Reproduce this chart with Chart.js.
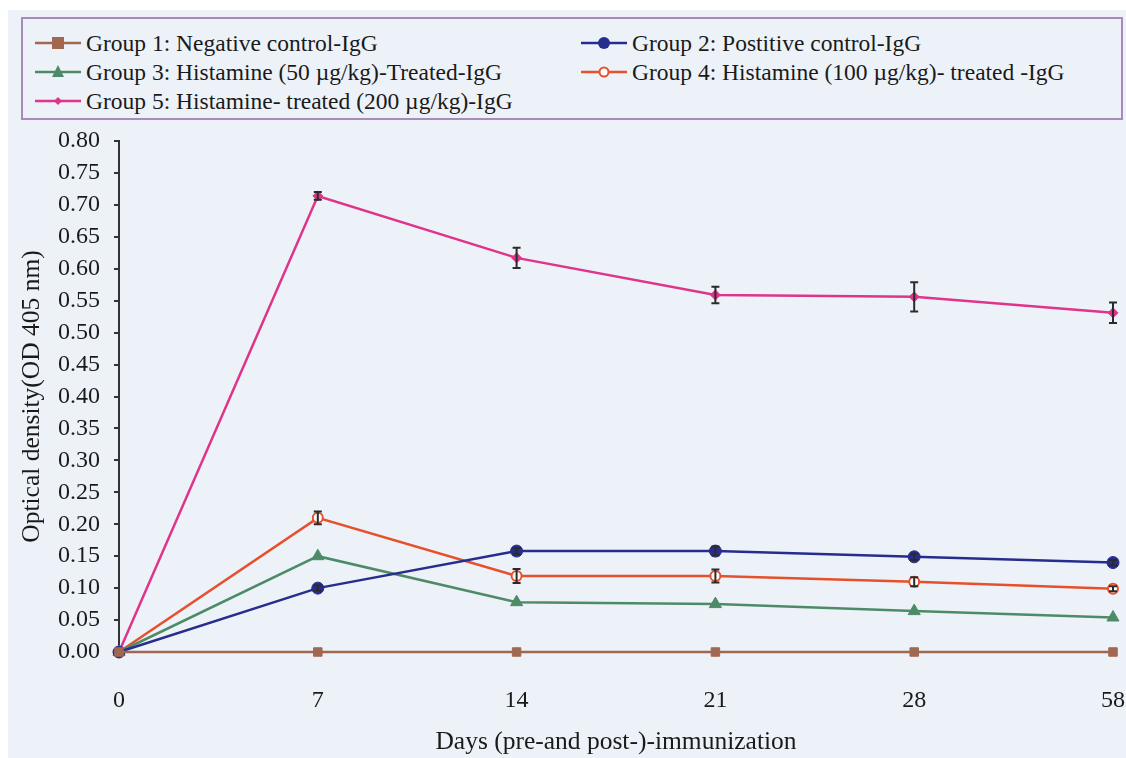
<!DOCTYPE html>
<html>
<head>
<meta charset="utf-8">
<script src="https://cdn.jsdelivr.net/npm/chart.js@4.4.1/dist/chart.umd.min.js"></script>
<style>
  html, body { margin:0; padding:0; background:#ffffff; width:1126px; height:758px; overflow:hidden; }
  #panel { position:absolute; left:8px; top:10px; width:1118px; height:748px; background:#edf2f8; }
  #legendBox { position:absolute; left:21px; top:17px; width:1098px; height:99px; border:2px solid #a98bb9; background:#edf2f8; }
  .lg { position:absolute; height:26px; display:flex; align-items:center; font-family:"Liberation Serif", "Times New Roman", serif; font-size:23.5px; color:#1a1a1a; white-space:nowrap; }
  .lg svg { margin-right:5px; }
  #c { position:absolute; left:0; top:0; }
</style>
</head>
<body>
<div id="panel"></div>
<div id="legendBox"></div>
<div id="legend"></div>
<canvas id="c" width="1126" height="758"></canvas>
<script>
// ---- data ----
const days = ['0', '7', '14', '21', '28', '58'];
const seriesNames = [
  'Group 1: Negative control-IgG',
  'Group 2: Postitive control-IgG',
  'Group 3: Histamine (50 \u00b5g/kg)-Treated-IgG',
  'Group 4: Histamine (100 \u00b5g/kg)- treated -IgG',
  'Group 5: Histamine- treated (200 \u00b5g/kg)-IgG'
];
const group1 = [0, 0, 0, 0, 0, 0];
const group2 = [0, 0.100, 0.158, 0.158, 0.149, 0.140];
const group3 = [0, 0.150, 0.078, 0.075, 0.064, 0.054];
const group4 = [0, 0.210, 0.119, 0.119, 0.110, 0.099];
const group5 = [0, 0.714, 0.617, 0.559, 0.556, 0.531];
const err1 = [0, 0, 0, 0, 0, 0];
const err2 = [0, 0.004, 0.005, 0.007, 0.005, 0.004];
const err3 = [0, 0, 0, 0, 0, 0];
const err4 = [0, 0.010, 0.011, 0.010, 0.007, 0.004];
const err5 = [0, 0.006, 0.016, 0.013, 0.023, 0.016];
const yTicksMin = 0, yTicksMax = 0.8, yTickStep = 0.05;
const xTitle = 'Days (pre-and post-)-immunization';
const yTitle = 'Optical density(OD 405 nm)';

// ---- styles ----
const colors = ['#a2684f', '#262d8c', '#4d8b68', '#e6502b', '#e0338a'];
const pointStyles = ['rect', 'circle', 'triangle', 'circle', 'rectRot'];
const pointRadii = [6, 6, 7, 5, 5];
const pointFills = [colors[0], colors[1], colors[2], '#ffffff', colors[4]];
const values = [group1, group2, group3, group4, group5];
const errors = [err1, err2, err3, err4, err5];

const datasets = values.map((v, i) => ({
  label: seriesNames[i],
  data: v,
  errors: errors[i],
  borderColor: colors[i],
  backgroundColor: pointFills[i],
  pointBorderColor: colors[i],
  pointBackgroundColor: pointFills[i],
  pointStyle: pointStyles[i],
  pointRadius: pointRadii[i],
  pointBorderWidth: i === 3 ? 2 : 1,
  borderWidth: 2.5,
  tension: 0,
  clip: false
}));

const errorBars = {
  id: 'errorBars',
  afterDatasetsDraw(chart) {
    const ctx = chart.ctx;
    const y = chart.scales.y;
    ctx.save();
    ctx.strokeStyle = '#2b2b2b';
    ctx.lineWidth = 2;
    chart.data.datasets.forEach((ds, di) => {
      const meta = chart.getDatasetMeta(di);
      meta.data.forEach((pt, i) => {
        const e = ds.errors[i];
        if (!e) return;
        const v = ds.data[i];
        const top = y.getPixelForValue(v + e);
        const bot = y.getPixelForValue(v - e);
        const x = pt.x;
        ctx.beginPath();
        ctx.moveTo(x, top); ctx.lineTo(x, bot);
        ctx.moveTo(x - 4, top); ctx.lineTo(x + 4, top);
        ctx.moveTo(x - 4, bot); ctx.lineTo(x + 4, bot);
        ctx.stroke();
      });
    });
    ctx.restore();
  }
};

const FONT = "'Liberation Serif', 'Times New Roman', serif";

const chart = new Chart(document.getElementById('c'), {
  type: 'line',
  data: { labels: days, datasets },
  options: {
    responsive: false,
    animation: false,
    layout: { padding: { top: 141, right: 13, bottom: 0, left: 0 } },
    plugins: { legend: { display: false }, tooltip: { enabled: false } },
    scales: {
      x: {
        type: 'category',
        offset: false,
        grid: { display: false },
        border: { display: false },
        ticks: { color: '#1a1a1a', font: { family: FONT, size: 24 }, padding: 26, maxRotation: 0, autoSkip: false },
        title: { display: true, text: xTitle, color: '#1a1a1a',
                 font: { family: FONT, size: 25.5 }, padding: { top: 0, bottom: 0 } },
        afterFit(s) { s.height = 106; s.paddingLeft = 0; s.paddingRight = 0; }
      },
      y: {
        min: yTicksMin, max: yTicksMax,
        grid: { display: true, drawOnChartArea: false, drawTicks: true, tickLength: 5, color: '#333333', lineWidth: 2 },
        border: { display: true, color: '#333333', width: 2 },
        ticks: { stepSize: yTickStep, color: '#1a1a1a', font: { family: FONT, size: 24 }, padding: 14,
                 callback: v => Number(v).toFixed(2) },
        title: { display: true, text: yTitle, color: '#1a1a1a',
                 font: { family: FONT, size: 25.5 }, padding: { top: 17, bottom: 0 } },
        afterFit(s) { s.width = 119; s.paddingTop = 0; s.paddingBottom = 0; }
      }
    }
  },
  plugins: [errorBars]
});

// ---- HTML legend built from datasets ----
const legendPos = [[35, 30], [581, 30], [35, 59], [581, 59], [35, 88]];
const legendEl = document.getElementById('legend');
chart.data.datasets.forEach((ds, i) => {
  const item = document.createElement('div');
  item.className = 'lg';
  item.style.left = legendPos[i][0] + 'px';
  item.style.top = legendPos[i][1] + 'px';
  const c = ds.borderColor, f = ds.pointBackgroundColor;
  let shape = '';
  const cx = 23, cy = 13;
  if (ds.pointStyle === 'rect') shape = `<rect x="${cx-6}" y="${cy-6}" width="12" height="12" fill="${f}"/>`;
  else if (ds.pointStyle === 'circle' && f === '#ffffff') shape = `<circle cx="${cx}" cy="${cy}" r="4.5" fill="#fff" stroke="${c}" stroke-width="2"/>`;
  else if (ds.pointStyle === 'circle') shape = `<circle cx="${cx}" cy="${cy}" r="6" fill="${f}"/>`;
  else if (ds.pointStyle === 'triangle') shape = `<polygon points="${cx},${cy-7} ${cx+6},${cy+5} ${cx-6},${cy+5}" fill="${f}"/>`;
  else shape = `<polygon points="${cx},${cy-4} ${cx+4},${cy} ${cx},${cy+4} ${cx-4},${cy}" fill="${f}"/>`;
  item.innerHTML = `<svg width="46" height="26"><line x1="0" y1="${cy}" x2="46" y2="${cy}" stroke="${c}" stroke-width="2.5"/>${shape}</svg><span>${ds.label}</span>`;
  legendEl.appendChild(item);
});
</script>
</body>
</html>
